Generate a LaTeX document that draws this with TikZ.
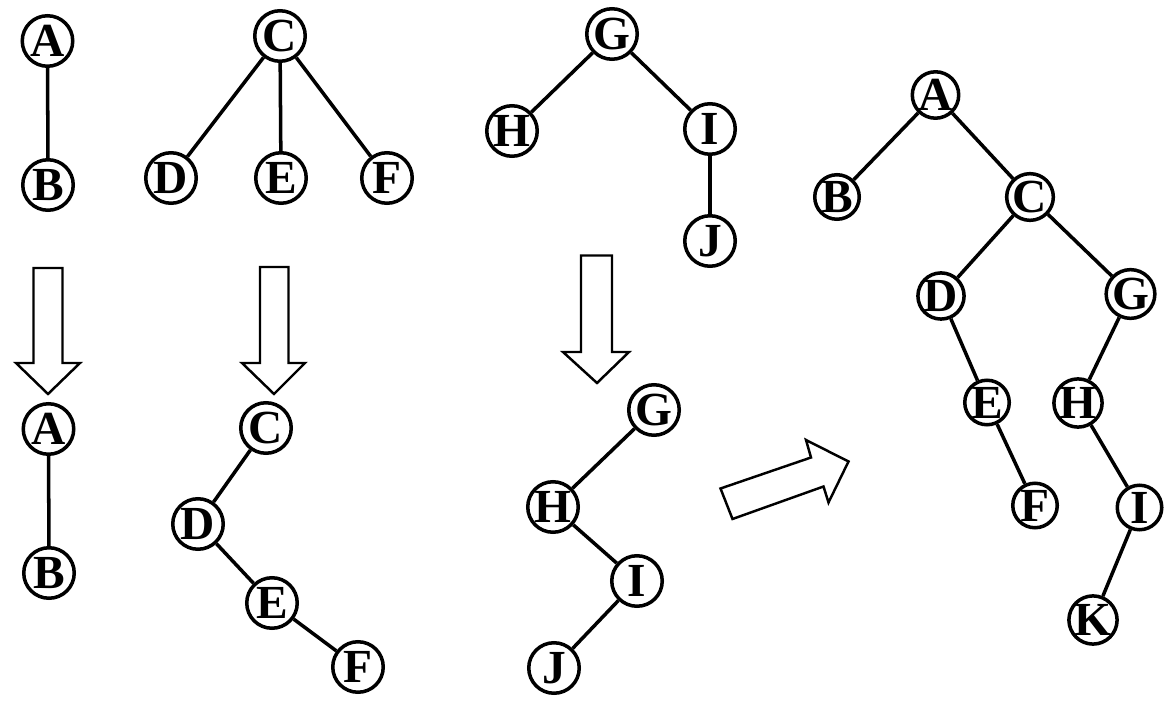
\documentclass[tikz,border=0pt]{standalone}
\usepackage{fontspec}
\setmainfont{Liberation Serif}
\usetikzlibrary{positioning}

\begin{document}
\begin{tikzpicture}[
    vertex/.style={circle, draw, line width=2pt, minimum size=1.01cm, inner sep=0pt,
                   font=\fontsize{27}{27}\selectfont\bfseries},
    bvertex/.style={vertex, minimum size=0.89cm},
    link/.style={line width=2pt},
    hollow/.style={line width=1.4pt, line join=miter, fill=white}]
  \useasboundingbox (0,0) rectangle (23.5,-14.24);

  % === FOREST ===
  \node[vertex] (a1) at (0.95,-0.82) {A};
  \node[vertex] (b1) at (0.96,-3.70) {B};
  \draw[link] (a1) -- (b1);

  \node[vertex] (c1) at (5.60,-0.72) {C};
  \node[vertex] (d1) at (3.42,-3.56) {D};
  \node[vertex] (e1) at (5.62,-3.56) {E};
  \node[vertex] (f1) at (7.74,-3.56) {F};
  \draw[link] (c1) -- (d1);
  \draw[link] (c1) -- (e1);
  \draw[link] (c1) -- (f1);

  \node[vertex] (g1) at (12.24,-0.68) {G};
  \node[vertex] (h1) at (10.24,-2.62) {H};
  \node[vertex] (i1) at (14.20,-2.58) {I};
  \node[vertex] (j1) at (14.20,-4.82) {J};
  \draw[link] (g1) -- (h1);
  \draw[link] (g1) -- (i1);
  \draw[link] (i1) -- (j1);

  % Fleches vers le bas
  \draw[hollow] (0.67,-5.36) -- (1.25,-5.36) -- (1.25,-7.26) -- (1.60,-7.26)
    -- (0.96,-7.88) -- (0.32,-7.26) -- (0.67,-7.26) -- cycle;
  \draw[hollow] (5.20,-5.34) -- (5.77,-5.34) -- (5.77,-7.26) -- (6.10,-7.26)
    -- (5.48,-7.88) -- (4.84,-7.26) -- (5.20,-7.26) -- cycle;
  \draw[hollow] (11.62,-5.11) -- (12.24,-5.11) -- (12.24,-7.04) -- (12.58,-7.04)
    -- (11.94,-7.66) -- (11.26,-7.04) -- (11.62,-7.04) -- cycle;

  % === BINARY TREES ===
  \node[vertex] (a2) at (0.97,-8.58) {A};
  \node[vertex] (b2) at (0.98,-11.46) {B};
  \draw[link] (a2) -- (b2);

  \node[vertex] (c2) at (5.32,-8.56) {C};
  \node[vertex] (d2) at (3.96,-10.48) {D};
  \node[vertex] (e2) at (5.44,-12.06) {E};
  \node[vertex] (f2) at (7.16,-13.34) {F};
  \draw[link] (c2) -- (d2);
  \draw[link] (d2) -- (e2);
  \draw[link] (e2) -- (f2);

  \node[vertex] (g2) at (13.08,-8.20) {G};
  \node[vertex] (h2) at (11.06,-10.14) {H};
  \node[vertex] (i2) at (12.74,-11.62) {I};
  \node[vertex] (j2) at (11.08,-13.36) {J};
  \draw[link] (g2) -- (h2);
  \draw[link] (h2) -- (i2);
  \draw[link] (i2) -- (j2);

  % Fleche oblique
  \draw[hollow] (14.41,-9.77) -- (16.22,-9.15) -- (16.12,-8.80) -- (16.97,-9.23)
    -- (16.57,-10.05) -- (16.47,-9.73) -- (14.65,-10.38) -- cycle;

  % === RESULT ===
  \node[bvertex] (a3) at (18.71,-1.90) {A};
  \node[bvertex] (b3) at (16.74,-3.94) {B};
  \node[bvertex] (c3) at (20.60,-3.94) {C};
  \node[bvertex] (d3) at (18.82,-5.92) {D};
  \node[bvertex] (g3) at (22.61,-5.88) {G};
  \node[bvertex] (e3) at (19.74,-8.05) {E};
  \node[bvertex] (h3) at (21.56,-8.06) {H};
  \node[bvertex] (f3) at (20.70,-10.11) {F};
  \node[bvertex] (i3) at (22.79,-10.15) {I};
  \node[bvertex] (k3) at (21.86,-12.40) {K};
  \draw[link] (a3) -- (b3);
  \draw[link] (a3) -- (c3);
  \draw[link] (c3) -- (d3);
  \draw[link] (c3) -- (g3);
  \draw[link] (d3) -- (e3);
  \draw[link] (e3) -- (f3);
  \draw[link] (g3) -- (h3);
  \draw[link] (h3) -- (i3);
  \draw[link] (i3) -- (k3);
\end{tikzpicture}
\end{document}
